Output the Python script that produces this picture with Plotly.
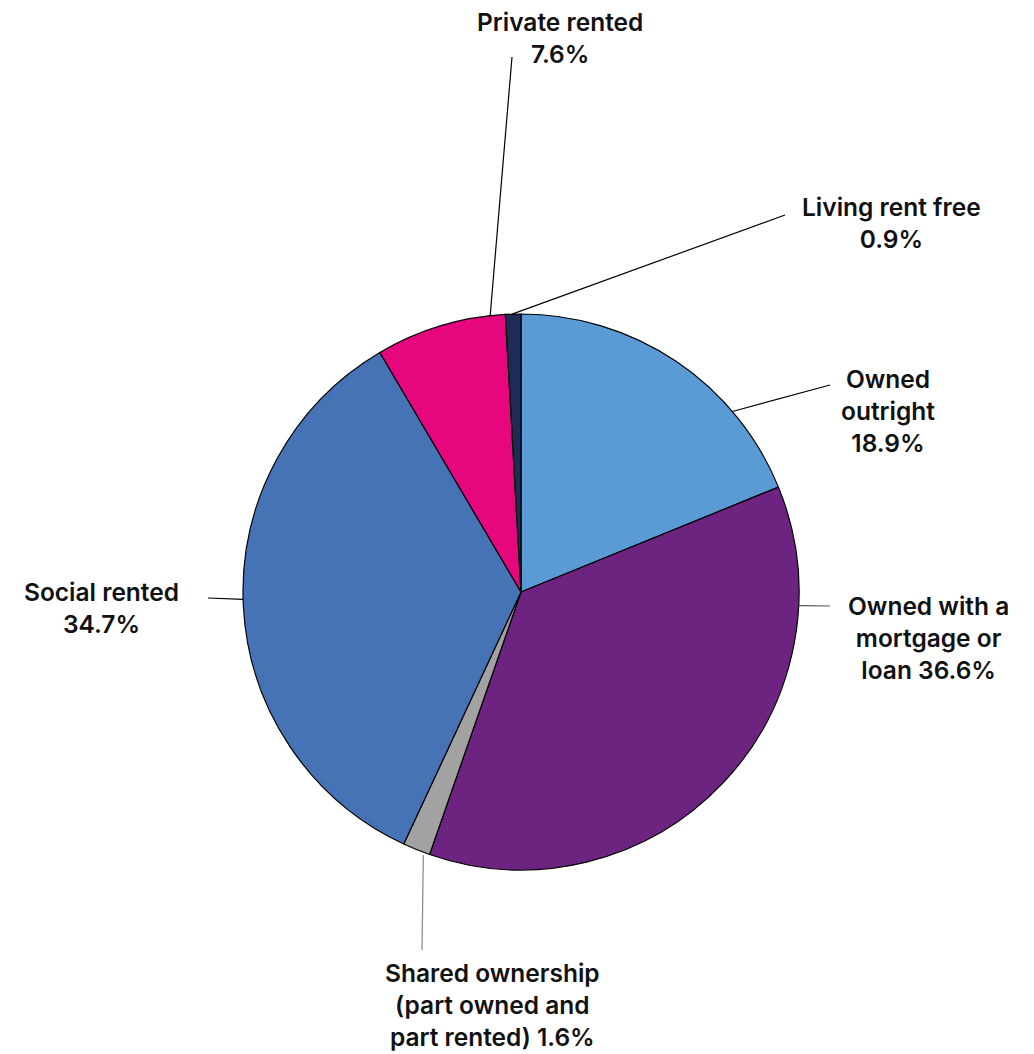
import math
import plotly.graph_objects as go

# ---- data ----
categories = ["Owned outright", "Owned with a mortgage or loan", "Shared ownership (part owned and part rented)",
              "Social rented", "Private rented", "Living rent free"]
values = [18.9, 36.6, 1.6, 34.7, 7.6, 0.9]
label_texts = ["Owned<br>outright<br>18.9%",
               "Owned with a<br>mortgage or<br>loan 36.6%",
               "Shared ownership<br>(part owned and<br>part rented) 1.6%",
               "Social rented<br>34.7%",
               "Private rented<br>7.6%",
               "Living rent free<br>0.9%"]
colors = ["#5B9BD5", "#6C2480", "#A2A2A2", "#4672B6", "#E6077F", "#1F2B57"]

# ---- layout / style ----
W, H = 1034, 1054
OFF = 8  # page body margin offset (screen px = figure px + OFF)
CX, CY, R = 521, 592, 278  # pie centre and radius in screen px
# where along each slice the leader line starts (fraction of slice), and radius factor
leader_frac = [0.73, 0.19, 0.2, 0.51, 0.885, 0.43]
leader_rad = [1.0, 1.0, 1.01, 1.0, 1.0, 1.0]
leader_end = [(830, 385), (830, 606), (422, 950), (208, 598), (512, 57), (785, 215)]
leader_col = ["#000", "#555", "#888", "#000", "#000", "#000"]
label_pos = [(888, 411), (928, 638), (492, 1005), (101, 608), (560, 38), (891, 223)]

def px2paper(x, y):
    return (x - OFF) / W, 1 - (y - OFF) / H

d_x0, d_y1 = px2paper(CX - R, CY - R)
d_x1, d_y0 = px2paper(CX + R, CY + R)

fig = go.Figure(go.Pie(
    labels=categories, values=values, sort=False, direction="clockwise", rotation=0,
    marker=dict(colors=colors, line=dict(color="#000000", width=1.2)),
    textinfo="none", hoverinfo="label+percent", showlegend=False,
    domain=dict(x=[d_x0, d_x1], y=[d_y0, d_y1]),
))

total = sum(values)
cum = 0.0
shapes, annotations = [], []
for i, v in enumerate(values):
    a0 = cum / total * 360
    a1 = (cum + v) / total * 360
    cum += v
    th = math.radians(a0 + leader_frac[i] * (a1 - a0))
    sx = CX + R * leader_rad[i] * math.sin(th)
    sy = CY - R * leader_rad[i] * math.cos(th)
    x0, y0 = px2paper(sx, sy)
    x1, y1 = px2paper(*leader_end[i])
    shapes.append(dict(type="line", xref="paper", yref="paper", x0=x0, y0=y0, x1=x1, y1=y1,
                       line=dict(color=leader_col[i], width=1.2)))
    lx, ly = px2paper(*label_pos[i])
    annotations.append(dict(text=label_texts[i], x=lx, y=ly, xref="paper", yref="paper",
                            xanchor="center", yanchor="middle", align="center", showarrow=False,
                            font=dict(family="Inter", size=24.5, color="#111111", weight=600)))

fig.update_layout(width=W, height=H, margin=dict(l=0, r=0, t=0, b=0),
                  paper_bgcolor="white", plot_bgcolor="white",
                  shapes=shapes, annotations=annotations)
fig.write_html("out.html")
